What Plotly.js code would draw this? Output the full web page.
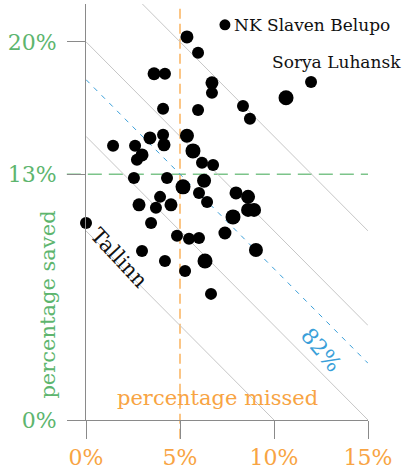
<!DOCTYPE html>
<html><head><meta charset="utf-8">
<script src="https://cdn.plot.ly/plotly-3.0.1.min.js"></script>
<style>html,body{margin:0;padding:0;background:#fff;}#chart{width:407px;height:475px;}</style>
</head><body><div id="chart"></div>
<script>
// percentage of shots missed (x) and percentage saved (y) per team
const missed = [7.39,5.37,5.96,3.62,4.20,6.70,6.70,4.10,5.96,8.35,8.72,10.64,11.97,1.44,2.61,3.40,4.10,4.15,5.37,5.69,2.98,2.71,6.17,6.76,2.55,4.31,5.16,6.28,6.01,6.44,7.98,8.62,8.62,8.94,7.82,2.82,3.94,3.72,4.52,3.46,0.00,4.84,5.48,6.01,7.39,9.04,2.98,4.20,6.33,5.27,6.65];
const saved = [20.90,20.26,19.42,18.31,18.31,17.83,17.30,16.46,16.40,16.61,15.93,17.04,17.88,14.50,14.50,14.92,15.08,14.55,15.03,14.23,14.02,13.76,13.60,13.49,12.80,12.80,12.33,12.65,12.01,11.53,12.01,11.80,11.11,11.11,10.74,11.38,11.80,11.22,11.38,10.42,10.42,9.74,9.58,9.63,9.89,8.99,8.94,8.41,8.41,7.88,6.67];
const shots = [110,130,120,130,120,130,120,120,120,120,120,150,120,120,120,130,120,130,140,150,130,120,120,120,120,120,150,140,120,120,130,140,140,140,150,130,120,120,130,120,120,120,120,120,130,140,120,120,150,120,120];
const labelledTeams = ["NK Slaven Belupo", "Sorya Luhansk", "Tallinn"];
const labelledIndex = [0, 12, 40];
const isoTotals = [10, 15, 20, 25];
const benchmarkTotal = 18;      // 82% line
const benchmarkLabel = "82%";
const avgMissed = 5;
const avgSaved = 13;
const xTickVals = [0, 5, 10, 15];
const xTickText = ["0%", "5%", "10%", "15%"];
const yTickVals = [0, 13, 20];
const yTickText = ["0%", "13%", "20%"];

const X_MAX = 15, Y_MAX = 22;
const GREEN = '#5db56e', ORANGE = '#f8a443', BLUE = '#3a9fd9', GREY = '#8a8a8a';
const FONT = 'DejaVu Serif';

function isoLine(c, color, dash, width) {
  const x0 = Math.max(0, c - Y_MAX), x1 = Math.min(X_MAX, c);
  return {type:'line', xref:'x', yref:'y', x0:x0, y0:c - x0, x1:x1, y1:c - x1,
          line:{color:color, width:width, dash:dash}, layer:'below'};
}

const shapes = isoTotals.map(c => isoLine(c, '#c6c6c6', 'solid', 1));
shapes.push(isoLine(benchmarkTotal, BLUE, '5px,6px', 1));
shapes.push({type:'line', xref:'x', yref:'paper', x0:avgMissed, x1:avgMissed, y0:-0.045, y1:1,
             line:{color:'#fbc585', width:2, dash:'10px,5px'}, layer:'below'});
shapes.push({type:'line', xref:'paper', yref:'y', x0:-0.068, x1:1, y0:avgSaved, y1:avgSaved,
             line:{color:'#7cc48a', width:1.5, dash:'14px,7px'}, layer:'below'});

const annotations = [
  {x:missed[labelledIndex[0]], y:saved[labelledIndex[0]], xref:'x', yref:'y', text:labelledTeams[0],
   showarrow:false, xanchor:'left', yanchor:'middle', xshift:7, font:{family:FONT, size:17, color:'#111'}},
  {x:missed[labelledIndex[1]], y:saved[labelledIndex[1]], xref:'x', yref:'y', text:labelledTeams[1],
   showarrow:false, xanchor:'right', yanchor:'middle', xshift:92, yshift:20, font:{family:FONT, size:17, color:'#111'}},
  {x:1.76, y:8.57, xref:'x', yref:'y', text:labelledTeams[2], textangle:47,
   showarrow:false, xanchor:'center', yanchor:'middle', font:{family:FONT, size:21, color:'#111'}},
  {x:12.55, y:3.7, xref:'x', yref:'y', text:benchmarkLabel, textangle:50,
   showarrow:false, xanchor:'center', yanchor:'middle', font:{family:FONT, size:22, color:BLUE}},
  {x:6.97, y:1.15, xref:'x', yref:'y', text:'percentage missed',
   showarrow:false, xanchor:'center', yanchor:'middle', font:{family:FONT, size:21, color:ORANGE}},
  {x:-0.135, y:6.1, xref:'paper', yref:'y', text:'percentage saved', textangle:-90,
   showarrow:false, xanchor:'center', yanchor:'middle', font:{family:FONT, size:21, color:GREEN}}
];

const trace = {
  type:'scatter', mode:'markers', x:missed, y:saved, cliponaxis:false,
  marker:{color:'#000', opacity:1, size:shots.map(s => s / 10), line:{width:0}},
  hoverinfo:'skip'
};

const axisCommon = {showline:true, linecolor:GREY, linewidth:1, ticks:'outside', ticklen:18,
  tickcolor:GREY, tickwidth:1, showgrid:false, zeroline:false, fixedrange:true};

const layout = {
  width:407, height:475, margin:{l:86, r:39, t:4, b:55},
  paper_bgcolor:'#fff', plot_bgcolor:'#fff', showlegend:false,
  font:{family:FONT},
  xaxis:Object.assign({}, axisCommon, {range:[0, X_MAX], tickvals:xTickVals, ticktext:xTickText,
    tickfont:{family:FONT, size:22, color:ORANGE}}),
  yaxis:Object.assign({}, axisCommon, {range:[0, Y_MAX], tickvals:yTickVals, ticktext:yTickText,
    tickfont:{family:FONT, size:22, color:GREEN}, ticklabelstandoff:6}),
  shapes:shapes, annotations:annotations
};

Plotly.newPlot('chart', [trace], layout, {staticPlot:true, displayModeBar:false});
</script></body></html>
